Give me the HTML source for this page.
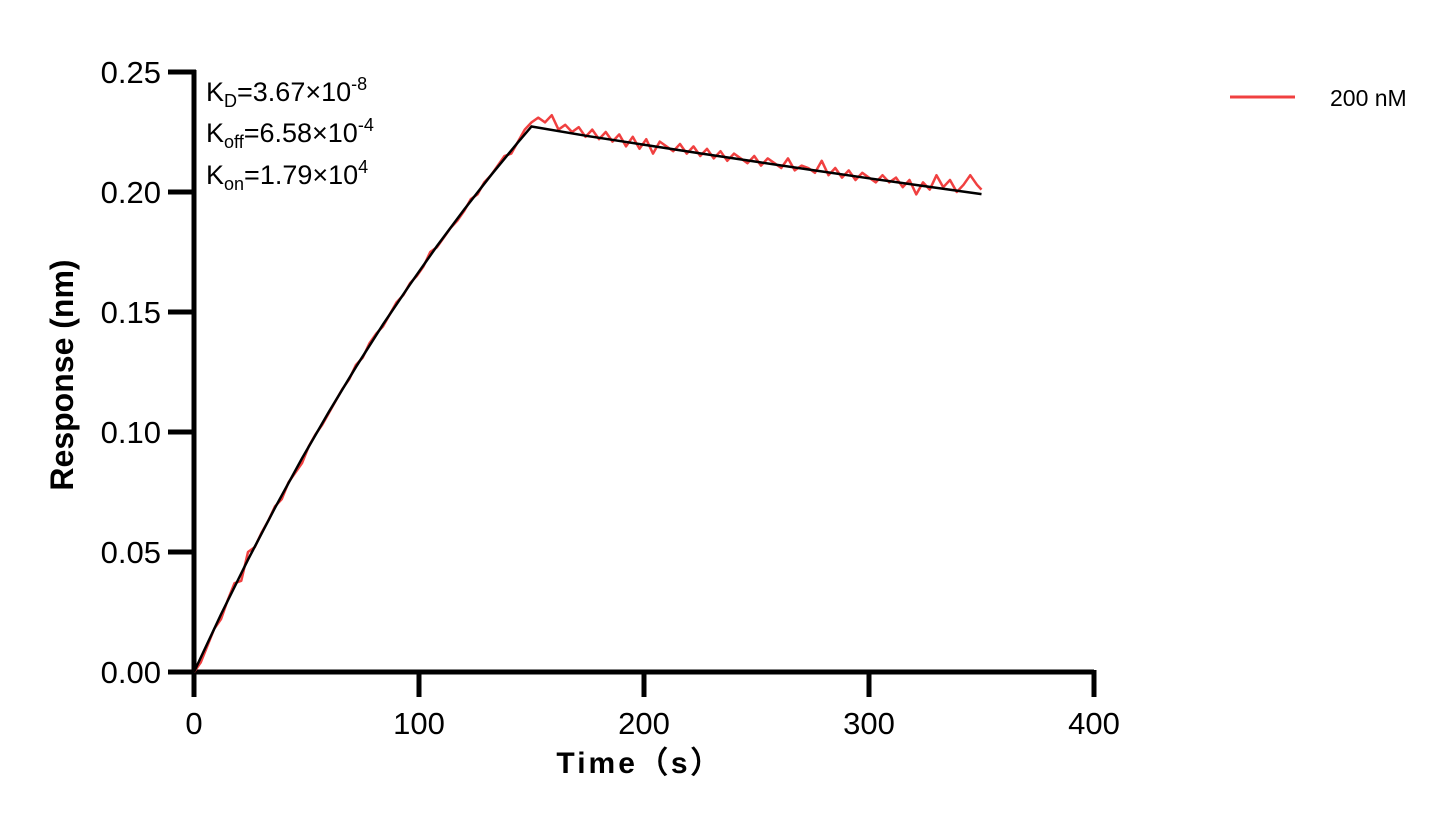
<!DOCTYPE html>
<html><head><meta charset="utf-8"><style>
body{margin:0;background:#fff;}
svg text{font-family:"Liberation Sans",Arial,sans-serif;}
</style></head><body>
<svg id="chart" width="1456" height="825" viewBox="0 0 1456 825" xmlns="http://www.w3.org/2000/svg">
<g id="axes"></g>
<g id="series"></g>
<g font-size="27" fill="#000">
<text x="206" y="101">K<tspan font-size="18" dy="6">D</tspan><tspan dy="-6">=3.67×10</tspan><tspan font-size="18" dy="-11">-8</tspan></text>
<text x="206" y="142">K<tspan font-size="18" dy="6">off</tspan><tspan dy="-6">=6.58×10</tspan><tspan font-size="18" dy="-11">-4</tspan></text>
<text x="206" y="184">K<tspan font-size="18" dy="6">on</tspan><tspan dy="-6">=1.79×10</tspan><tspan font-size="18" dy="-11">4</tspan></text>
</g>
<g>
<line x1="1230" y1="97" x2="1295" y2="97" stroke="#f04040" stroke-width="3"/>
<text x="1330" y="106" font-size="23">200 nM</text>
</g>
<text x="640" y="773" font-size="30" font-weight="bold" text-anchor="middle" letter-spacing="3">Time（s）</text>
<text transform="translate(73,375) rotate(-90)" font-size="32" font-weight="bold" text-anchor="middle">Response (nm)</text>
</svg>
<script>
const xTicks=[0,100,200,300,400];
const yTicks=[0,0.05,0.10,0.15,0.20,0.25];
const yTickLabels=["0.00","0.05","0.10","0.15","0.20","0.25"];
const rawTime=[0,3,6,9,12,15,18,21,24,27,30,33,36,39,42,45,48,51,54,57,60,63,66,69,72,75,78,81,84,87,90,93,96,99,102,105,108,111,114,117,120,123,126,129,132,135,138,141,144,147,150,153,156,159,162,165,168,171,174,177,180,183,186,189,192,195,198,201,204,207,210,213,216,219,222,225,228,231,234,237,240,243,246,249,252,255,258,261,264,267,270,273,276,279,282,285,288,291,294,297,300,303,306,309,312,315,318,321,324,327,330,333,336,339,342,345,348,350];
const rawResponse=[0,.004,.011,.018,.022,.030,.037,.038,.050,.052,.058,.063,.069,.072,.079,.083,.087,.094,.099,.103,.108,.113,.118,.122,.128,.131,.137,.141,.144,.149,.154,.157,.162,.165,.169,.175,.177,.181,.185,.188,.192,.197,.199,.204,.207,.211,.215,.216,.221,.226,.229,.231,.229,.232,.226,.228,.225,.227,.223,.226,.222,.225,.221,.224,.219,.223,.218,.222,.216,.221,.219,.217,.220,.216,.219,.215,.218,.214,.217,.213,.216,.214,.212,.215,.211,.214,.212,.210,.214,.209,.211,.210,.208,.213,.207,.210,.206,.209,.205,.208,.206,.204,.207,.204,.206,.202,.205,.199,.204,.201,.207,.202,.205,.200,.203,.207,.203,.201];
const fitTime=[0,12,24,36,48,60,72,84,96,108,120,132,144,150,175,200,225,250,275,300,325,350];
const fitResponse=[0,.0240,.0468,.0684,.0890,.1085,.1271,.1448,.1615,.1775,.1926,.2070,.2207,.2273,.2233,.2197,.2161,.2126,.2091,.2057,.2024,.1991];
const X=t=>194+t*2.25, Y=v=>672-v*2400;
const NS="http://www.w3.org/2000/svg";
const axes=document.getElementById('axes'), series=document.getElementById('series');
function mk(tag,attrs,parent){const e=document.createElementNS(NS,tag);for(const k in attrs)e.setAttribute(k,attrs[k]);parent.appendChild(e);return e;}
const xa=mk('line',{x1:194,y1:672,x2:X(400),y2:672,stroke:'#000','stroke-width':5},axes);


const ya=mk('line',{x1:194,y1:Y(0)+2,x2:194,y2:Y(0.25)-2,stroke:'#000','stroke-width':5},axes);


xTicks.forEach(t=>{
 const l=mk('line',{x1:X(t),y1:670,x2:X(t),y2:697,stroke:'#000','stroke-width':5},axes);
 
 
 const tx=mk('text',{x:X(t),y:734,'font-size':31,'text-anchor':'middle'},axes);tx.textContent=t;
 
 
});
yTicks.forEach((v,i)=>{
 const l=mk('line',{x1:168,y1:Y(v),x2:196,y2:Y(v),stroke:'#000','stroke-width':5},axes);
 
 
 const tx=mk('text',{x:161,y:Y(v)+11,'font-size':31,'text-anchor':'end'},axes);tx.textContent=yTickLabels[i];
 
 
});
const raw=mk('polyline',{points:rawTime.map((t,i)=>X(t)+','+Y(rawResponse[i])).join(' '),fill:'none',stroke:'#f04040','stroke-width':2.5,'stroke-linejoin':'round'},series);


const fit=mk('polyline',{points:fitTime.map((t,i)=>X(t)+','+Y(fitResponse[i])).join(' '),fill:'none',stroke:'#000','stroke-width':2.5},series);


</script>
</body></html>
